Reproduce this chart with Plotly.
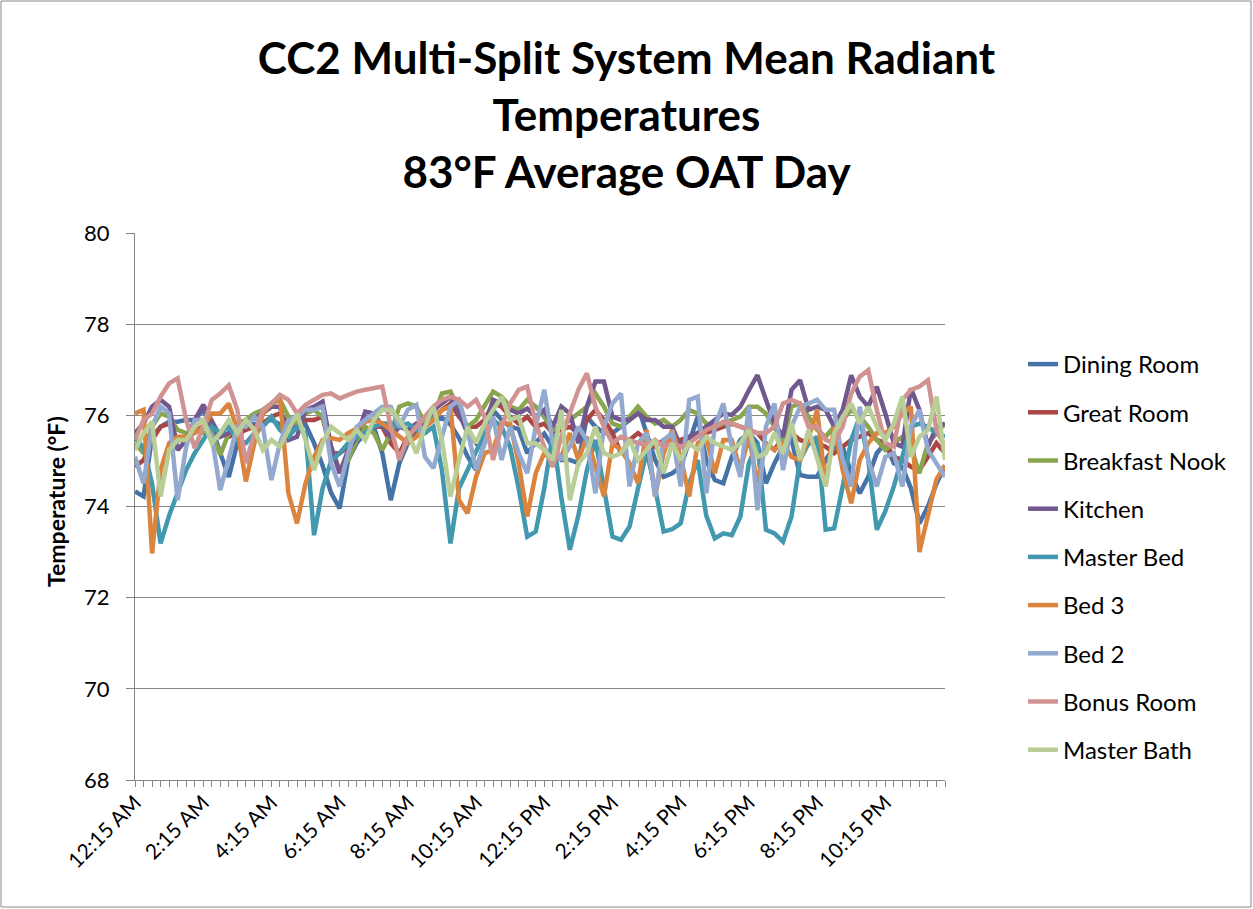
import plotly.graph_objects as go

# 15-minute intervals, 12:15 AM .. 12:00 AM (96 points)
tick_positions = [0, 8, 16, 24, 32, 40, 48, 56, 64, 72, 80, 88]
tick_labels = ["12:15 AM", "2:15 AM", "4:15 AM", "6:15 AM", "8:15 AM", "10:15 AM",
               "12:15 PM", "2:15 PM", "4:15 PM", "6:15 PM", "8:15 PM", "10:15 PM"]

dining_room = [74.33, 74.22, 75.53, 75.75, 75.86, 75.86, 75.90, 75.90, 76.12, 75.75, 75.17, 74.65,
               75.39, 75.82, 75.80, 75.85, 75.90, 75.80, 75.70, 75.75, 75.80, 75.39, 74.90, 74.30,
               73.96, 75.02, 75.39, 75.61, 75.75, 75.17, 74.14, 74.95, 75.39, 75.70, 75.85, 75.90,
               75.95, 75.80, 75.50, 75.10, 74.80, 75.40, 76.12, 75.90, 75.75, 75.70, 75.17, 75.40,
               75.60, 75.30, 75.02, 75.02, 74.95, 75.97, 75.75, 75.61, 75.61, 75.75, 75.90, 76.19,
               75.61, 75.02, 74.65, 74.73, 74.87, 75.39, 75.97, 75.02, 74.58, 74.51, 75.09, 75.46,
               75.61, 75.39, 74.51, 74.95, 75.31, 75.46, 74.69, 74.65, 74.65, 75.02, 75.31, 75.31,
               74.73, 74.29, 74.65, 75.17, 75.39, 74.95, 74.87, 74.40, 73.63, 74.00, 74.50, 74.90]
great_room = [74.87, 75.02, 75.46, 75.75, 75.82, 75.46, 75.46, 75.68, 75.75, 75.75, 75.61, 75.53,
              75.61, 75.68, 75.75, 75.82, 75.97, 76.04, 75.82, 75.82, 75.90, 75.90, 75.97, 75.17,
              75.17, 75.31, 75.53, 75.68, 75.75, 75.75, 75.39, 75.17, 75.53, 75.68, 75.75, 75.90,
              76.12, 76.26, 75.97, 75.75, 75.75, 75.90, 76.26, 76.19, 75.97, 75.82, 75.97, 75.75,
              75.82, 75.61, 75.68, 75.75, 75.61, 75.90, 76.12, 75.90, 75.61, 75.17, 75.46, 75.61,
              75.46, 75.31, 75.46, 75.46, 75.46, 75.53, 75.61, 75.61, 75.68, 75.75, 75.82, 75.75,
              75.68, 75.61, 75.39, 75.24, 75.53, 75.61, 75.46, 75.39, 75.39, 75.31, 75.17, 75.31,
              75.46, 75.53, 75.61, 75.46, 75.39, 75.09, 75.02, 74.87, 74.80, 75.09, 75.39, 75.17]
breakfast_nook = [75.39, 75.17, 75.75, 76.04, 75.97, 75.68, 75.61, 75.68, 75.61, 75.61, 75.13, 75.61,
                  75.82, 75.90, 76.04, 76.12, 76.26, 76.34, 75.97, 75.82, 76.04, 76.12, 75.97, 75.31,
                  74.80, 75.02, 75.46, 75.75, 75.61, 75.24, 75.61, 76.19, 76.26, 76.19, 75.82, 75.97,
                  76.48, 76.52, 76.12, 75.75, 75.90, 76.19, 76.52, 76.41, 76.19, 76.12, 76.34, 76.19,
                  75.97, 75.68, 75.75, 75.90, 76.04, 76.19, 76.48, 76.19, 75.82, 75.75, 75.97, 76.19,
                  75.97, 75.82, 75.90, 75.75, 75.90, 76.12, 76.04, 75.82, 75.75, 75.82, 75.90, 75.97,
                  76.19, 76.19, 76.04, 75.75, 75.39, 76.19, 76.26, 75.97, 75.68, 75.53, 75.75, 75.90,
                  76.12, 75.97, 75.75, 75.46, 75.24, 75.39, 75.53, 75.31, 74.73, 75.39, 75.61, 75.82]
kitchen = [75.61, 75.82, 76.19, 76.34, 76.19, 75.24, 75.46, 75.90, 76.23, 75.90, 75.53, 75.61,
           75.75, 75.82, 75.93, 76.04, 76.19, 76.19, 75.46, 75.53, 76.12, 76.19, 76.30, 75.31,
           74.73, 75.24, 75.53, 76.08, 76.04, 75.75, 75.53, 75.75, 75.68, 75.82, 75.75, 76.12,
           76.26, 76.41, 76.04, 75.61, 75.39, 75.75, 76.34, 76.26, 76.12, 76.04, 76.15, 75.97,
           76.12, 75.75, 76.19, 76.04, 75.39, 76.19, 76.74, 76.74, 75.97, 75.90, 75.90, 76.04,
           75.90, 75.90, 75.75, 75.75, 75.31, 75.53, 75.61, 75.75, 75.90, 76.04, 76.01, 76.19,
           76.55, 76.88, 76.34, 75.82, 75.53, 76.56, 76.77, 76.12, 76.19, 76.12, 75.75, 76.12,
           76.88, 76.41, 76.19, 76.63, 76.04, 75.39, 75.31, 76.59, 76.12, 75.31, 75.75, 75.82]
master_bed = [75.50, 75.30, 74.50, 73.19, 73.80, 74.30, 74.80, 75.17, 75.46, 75.75, 75.61, 75.75,
              75.46, 75.39, 75.61, 75.75, 75.97, 75.68, 75.53, 75.75, 75.61, 73.37, 74.40, 75.00,
              75.17, 75.39, 75.53, 75.61, 75.75, 75.82, 75.82, 75.75, 75.82, 75.68, 75.61, 75.75,
              74.80, 73.19, 74.40, 74.80, 75.20, 75.60, 75.90, 75.75, 75.30, 74.40, 73.34, 73.45,
              74.40, 75.60, 74.20, 73.05, 73.80, 74.80, 75.46, 74.40, 73.34, 73.27, 73.56, 74.40,
              75.20, 74.40, 73.45, 73.50, 73.63, 74.51, 75.02, 73.80, 73.30, 73.41, 73.37, 73.78,
              74.95, 75.39, 73.49, 73.41, 73.23, 73.78, 75.02, 75.39, 75.53, 73.49, 73.52, 74.44,
              75.46, 75.97, 75.02, 73.49, 73.90, 74.44, 75.09, 75.75, 75.82, 75.75, 75.61, 75.53]
bed_3 = [76.04, 76.12, 72.97, 74.80, 75.39, 75.53, 75.53, 75.61, 75.75, 76.04, 76.04, 76.26,
         75.68, 74.55, 75.39, 76.04, 76.26, 76.41, 74.29, 73.63, 74.51, 75.09, 75.46, 75.50,
         75.46, 75.61, 75.71, 75.86, 75.90, 75.82, 75.68, 75.53, 75.39, 75.53, 75.75, 75.90,
         76.12, 76.19, 74.14, 73.85, 74.65, 75.17, 75.24, 75.82, 75.82, 74.95, 73.78, 74.73,
         75.17, 75.02, 75.09, 75.61, 75.02, 75.53, 74.87, 74.22, 75.39, 75.24, 74.95, 74.51,
         75.68, 74.22, 75.17, 75.68, 75.09, 74.22, 75.39, 75.53, 74.73, 75.46, 75.46, 74.80,
         75.53, 74.51, 75.39, 75.24, 75.39, 75.09, 75.02, 75.50, 76.12, 74.44, 75.75, 74.80,
         74.07, 75.02, 75.39, 75.61, 75.61, 75.75, 76.04, 76.19, 73.00, 73.85, 74.60, 74.90]
bed_2 = [75.09, 74.51, 75.75, 76.19, 76.04, 74.14, 75.31, 75.90, 75.90, 75.53, 74.36, 75.09,
         75.75, 75.75, 75.97, 75.75, 74.58, 75.39, 75.90, 75.97, 76.12, 76.12, 76.19, 74.95,
         74.44, 75.17, 75.75, 75.90, 76.04, 76.19, 76.19, 75.75, 76.12, 76.23, 75.09, 74.84,
         75.53, 76.19, 76.34, 75.68, 74.80, 75.39, 75.97, 75.02, 75.75, 75.17, 74.73, 75.75,
         76.56, 75.39, 75.02, 75.31, 75.75, 75.46, 74.29, 75.75, 76.26, 76.48, 74.44, 75.39,
         75.61, 74.22, 75.46, 75.61, 74.44, 76.34, 76.41, 74.29, 75.75, 76.26, 75.31, 74.65,
         76.19, 73.92, 75.75, 76.26, 74.80, 75.75, 76.19, 76.26, 76.34, 76.12, 76.12, 75.02,
         74.44, 76.19, 75.02, 74.44, 75.09, 75.17, 74.44, 75.75, 76.12, 75.24, 74.95, 74.65]
bonus_room = [75.46, 75.90, 76.04, 76.41, 76.70, 76.81, 75.90, 75.28, 75.75, 76.34, 76.48, 76.66,
              76.12, 74.95, 75.61, 76.12, 76.26, 76.45, 76.34, 76.04, 76.23, 76.34, 76.45, 76.48,
              76.37, 76.45, 76.52, 76.56, 76.59, 76.63, 75.75, 75.02, 75.53, 75.75, 75.97, 76.19,
              76.34, 76.41, 76.34, 76.19, 76.34, 75.97, 75.02, 75.75, 76.26, 76.56, 76.63, 75.82,
              75.31, 74.87, 75.53, 76.04, 76.56, 76.92, 76.19, 75.75, 75.39, 75.53, 75.46, 75.39,
              75.35, 75.46, 75.31, 75.39, 75.31, 75.39, 75.53, 75.68, 75.75, 75.86, 75.82, 75.75,
              75.68, 75.61, 75.61, 75.75, 76.26, 76.34, 76.26, 75.75, 75.75, 75.46, 75.39, 75.75,
              76.48, 76.85, 76.99, 76.12, 75.39, 75.31, 76.34, 76.56, 76.63, 76.77, 75.68, 75.31]
master_bath = [75.24, 75.61, 75.86, 74.22, 75.24, 75.46, 75.46, 75.75, 75.90, 75.39, 75.61, 75.90,
               75.61, 75.90, 75.68, 75.24, 75.46, 75.31, 75.68, 76.04, 75.46, 74.80, 75.39, 75.75,
               75.61, 75.46, 75.68, 75.46, 75.90, 76.12, 76.12, 75.90, 75.61, 75.17, 75.75, 76.19,
               75.46, 74.22, 75.02, 75.75, 75.39, 75.82, 76.12, 76.41, 75.90, 75.97, 75.39, 75.39,
               75.24, 75.02, 76.12, 74.14, 74.95, 75.17, 75.75, 75.17, 75.09, 75.17, 75.46, 75.02,
               75.24, 75.46, 74.73, 75.39, 75.02, 75.39, 75.24, 75.53, 75.39, 75.31, 75.24, 75.39,
               75.68, 75.09, 75.17, 75.61, 75.17, 75.82, 75.02, 75.68, 75.09, 74.44, 75.61, 75.97,
               76.26, 75.82, 76.19, 75.75, 75.46, 75.82, 76.41, 75.09, 75.53, 75.68, 76.41, 75.02]

series_names = ["Dining Room", "Great Room", "Breakfast Nook", "Kitchen", "Master Bed",
                "Bed 3", "Bed 2", "Bonus Room", "Master Bath"]
series_values = [dining_room, great_room, breakfast_nook, kitchen, master_bed,
                 bed_3, bed_2, bonus_room, master_bath]
colors = ["#4572A7", "#AA4643", "#89A54E", "#71588F", "#4198AF",
          "#DB843D", "#93A9CF", "#D19392", "#B9CD96"]

x_idx = list(range(len(dining_room)))

FONT = "Lato"

fig = go.Figure()
for name, vals, col in zip(series_names, series_values, colors):
    fig.add_trace(go.Scatter(
        x=x_idx, y=vals, mode="lines", name=name, legendgroup=name,
        line=dict(color=col, width=4.5, shape="linear"),
    ))

W, H = 1253, 909
L, R, T, B = 135, 308, 233, 129
pw, ph = W - L - R, H - T - B

fig.update_layout(
    width=W, height=H,
    margin=dict(l=L, r=R, t=T, b=B),
    paper_bgcolor="white", plot_bgcolor="white",
    font=dict(family=FONT, color="black"),
    title=dict(
        text="<b>CC2 Multi-Split System Mean Radiant<br>Temperatures<br>83°F Average OAT Day</b>",
        font=dict(family=FONT, size=44, color="black"),
        x=0.5, xref="container", xanchor="center",
        y=1 - 74 / H, yref="container", yanchor="middle",
    ),
    xaxis=dict(
        range=[0, len(x_idx) - 1],
        tickmode="array", tickvals=tick_positions, ticktext=tick_labels,
        tickangle=-45, tickfont=dict(family=FONT, size=21, color="black"),
        ticks="outside", ticklen=6, tickcolor="#868686", tickwidth=1,
        ticklabelstandoff=-5,
        minor=dict(dtick=1, ticks="outside", ticklen=6, tickcolor="#868686", showgrid=False),
        showline=True, linecolor="#868686", linewidth=1,
        showgrid=False, zeroline=False,
    ),
    yaxis=dict(
        range=[68, 80], dtick=2, tick0=68,
        tickfont=dict(family=FONT, size=22, color="black"),
        ticks="outside", ticklen=8, tickcolor="#868686", ticklabelstandoff=12,
        showline=True, linecolor="#868686", linewidth=1,
        showgrid=True, gridcolor="#868686", gridwidth=1, zeroline=False,
    ),
    legend=dict(
        x=(1023 - L) / pw, xanchor="left",
        y=(H - B - 557) / ph, yanchor="middle",
        font=dict(family=FONT, size=24, color="black"),
        tracegroupgap=14, bgcolor="rgba(0,0,0,0)",
    ),
    showlegend=True,
)

fig.add_annotation(
    text="<b>Temperature (°F)</b>", textangle=-90,
    xref="paper", yref="paper",
    x=(56 - L) / pw, y=(H - B - 502) / ph,
    xanchor="center", yanchor="middle", showarrow=False,
    font=dict(family=FONT, size=23, color="black"),
)

fig.add_shape(
    type="rect", xref="paper", yref="paper",
    x0=(1 - L) / pw, x1=(W - 2 - L) / pw,
    y0=(H - B - (H - 2)) / ph, y1=(H - B - 1) / ph,
    line=dict(color="#868686", width=1), fillcolor="rgba(0,0,0,0)", layer="below",
)

fig.write_html("out.html", config={"displayModeBar": False},
               post_script="document.body.style.margin='0px';")
